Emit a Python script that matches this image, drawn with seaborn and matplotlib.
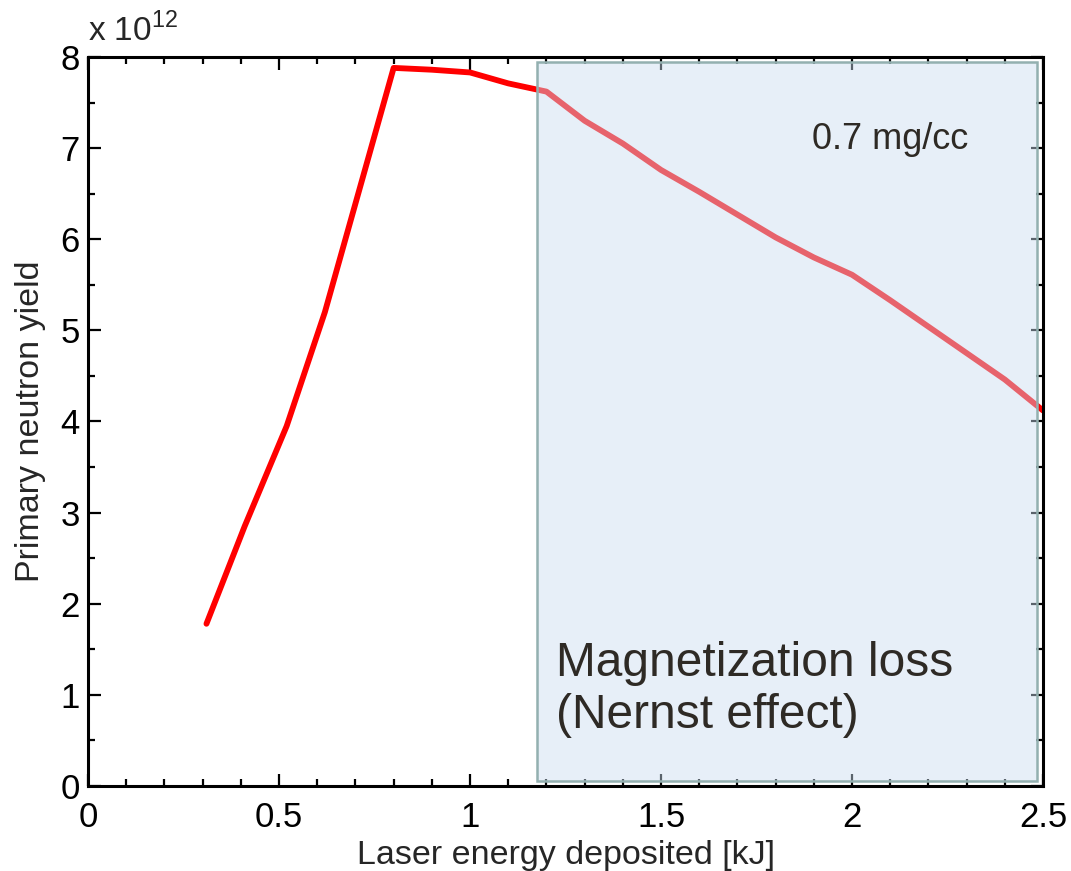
import pandas as pd
import matplotlib
matplotlib.use("Agg")
import matplotlib.pyplot as plt
from matplotlib.patches import Rectangle
from matplotlib.ticker import MultipleLocator
import seaborn as sns

# laser energy deposited [kJ] and primary neutron yield [x 1e12]
energy = [0.31, 0.41, 0.52, 0.62, 0.80, 0.90, 1.00, 1.10, 1.20, 1.30, 1.40,
          1.50, 1.60, 1.70, 1.80, 1.90, 2.00, 2.10, 2.20, 2.30, 2.40, 2.50]
yield_e12 = [1.78, 2.85, 3.95, 5.20, 7.88, 7.86, 7.83, 7.71, 7.62, 7.30, 7.05,
             6.76, 6.52, 6.27, 6.02, 5.80, 5.61, 5.33, 5.04, 4.75, 4.46, 4.12]

# shaded region (magnetization loss)
region_start = 1.175
region_end = 2.485
x_ticks = [0, 0.5, 1, 1.5, 2, 2.5]
x_tick_labels = ["0", "0.5", "1", "1.5", "2", "2.5"]

df = pd.DataFrame({"energy": energy, "yield": yield_e12})

sns.set_style("ticks")
plt.rcParams["font.family"] = ["Liberation Sans", "DejaVu Sans"]
plt.rcParams["mathtext.fontset"] = "custom"
plt.rcParams["mathtext.rm"] = "Liberation Sans"

fig = plt.figure(figsize=(10.71, 8.71), dpi=100)
ax = fig.add_axes([0.0822, 0.0976, 0.8917, 0.8370])

sns.lineplot(data=df, x="energy", y="yield", color="#ff0000", linewidth=4.2, ax=ax)

ax.set_xlim(0, 2.5)
ax.set_ylim(0, 8)
ax.set_xticks(x_ticks)
ax.set_xticklabels(x_tick_labels)
ax.xaxis.set_minor_locator(MultipleLocator(0.1))
ax.yaxis.set_major_locator(MultipleLocator(1))
ax.yaxis.set_minor_locator(MultipleLocator(0.5))
ax.tick_params(which="both", direction="in", top=True, right=True, width=1.6,
               colors="black", labelsize=25)
ax.tick_params(which="major", length=9)
ax.tick_params(which="minor", length=5)
ax.tick_params(axis="x", pad=11)
ax.tick_params(axis="y", pad=6)
for sp in ax.spines.values():
    sp.set_linewidth(2.2)
    sp.set_color("black")

ax.set_xlabel("Laser energy deposited [kJ]", fontsize=24.5, labelpad=4)
ax.set_ylabel("Primary neutron yield", fontsize=24.5, labelpad=10)

fill = (202/255, 221/255, 240/255)
rect = Rectangle((region_start, 0.06), region_end - region_start, 7.88,
                 facecolor=fill, alpha=0.45, edgecolor="none", zorder=5,
                 clip_on=False)
ax.add_patch(rect)
border = Rectangle((region_start, 0.06), region_end - region_start, 7.88,
                   facecolor="none", edgecolor="#93b0b0", linewidth=1.8,
                   zorder=6, clip_on=False)
ax.add_patch(border)

ax.text(0.0, 1.012, r"x 10$^{12}$", transform=ax.transAxes, fontsize=24,
        ha="left", va="bottom")
ax.text(2.1, 7.09, "0.7 mg/cc", fontsize=26, color="#2e2a25", ha="center",
        va="center", zorder=7)
ax.text(1.225, 1.06, "Magnetization loss\n(Nernst effect)", fontsize=34.5,
        color="#2e2a25", ha="left", va="center", linespacing=1.2, zorder=7)

fig.savefig("out.png", dpi=100)
